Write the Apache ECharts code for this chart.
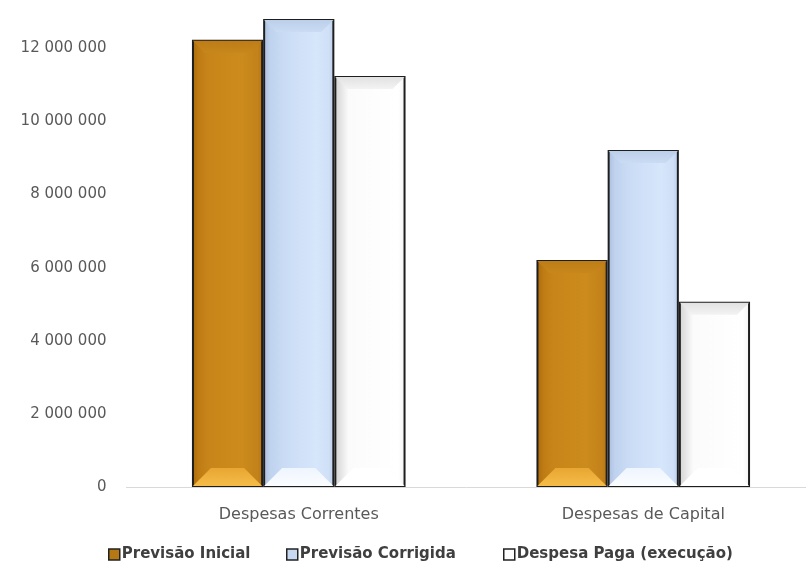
<!DOCTYPE html>
<html>
<head>
<meta charset="utf-8">
<script src="https://cdn.jsdelivr.net/npm/echarts@6/dist/echarts.min.js"></script>
<style>
  html, body { margin: 0; padding: 0; background: #ffffff; }
  #chart { width: 806px; height: 571px; }
</style>
</head>
<body>
<div id="chart"></div>
<script>
// Budget categories and the three execution series (values in euros)
const categories = ['Despesas Correntes', 'Despesas de Capital'];
const previsaoInicial = [12230000, 6210000];
const previsaoCorrigida = [12800000, 9220000];
const despesaPaga = [11240000, 5070000];
const seriesNames = ['Previsão Inicial', 'Previsão Corrigida', 'Despesa Paga (execução)'];
const yTicks = [0, 2000000, 4000000, 6000000, 8000000, 10000000, 12000000];

const CATEGORY_GAP = 0.38;

// Horizontal gradient giving each bar a rounded, bevelled body
function hGrad(stops) {
  return {
    type: 'linear', x: 0, y: 0, x2: 1, y2: 0,
    colorStops: stops.map(s => ({ offset: s[0], color: s[1] }))
  };
}
function vGrad(top, bottom) {
  return {
    type: 'linear', x: 0, y: 0, x2: 0, y2: 1,
    colorStops: [{ offset: 0, color: top }, { offset: 1, color: bottom }]
  };
}

const styles = [
  {
    color: hGrad([[0, '#a86a0c'], [0.1, '#c07c14'], [0.25, '#c8861a'], [0.7, '#cc8b1c'], [0.92, '#c3821a'], [1, '#b37410']]),
    legend: '#b57812',
    bottomFace: vGrad('#e8a632', '#f6bc48'),
    topFace: vGrad('#bd7c16', '#c8871b')
  },
  {
    color: hGrad([[0, '#a9bedd'], [0.1, '#bfd2ee'], [0.3, '#cadcf5'], [0.75, '#d6e6fb'], [0.92, '#cfe0f7'], [1, '#b9cde9']]),
    legend: '#c6d9f1',
    bottomFace: vGrad('#eef5fe', '#fbfdff'),
    topFace: vGrad('#bccfea', '#cadbf3')
  },
  {
    color: hGrad([[0, '#d2d2d2'], [0.1, '#e6e6e6'], [0.2, '#fbfbfb'], [0.9, '#ffffff'], [1, '#f2f2f2']]),
    legend: '#ffffff',
    bottomFace: '#ffffff',
    topFace: vGrad('#e2e2e2', '#f3f3f3')
  }
];

const dataSets = [previsaoInicial, previsaoCorrigida, despesaPaga];
const legendLefts = [108, 286, 503];

function fmt(v) {
  return String(v).replace(/\B(?=(\d{3})+(?!\d))/g, ' ');
}

// Bevel faces (top and bottom trapezoids) drawn over each bar
const bevelData = [];
dataSets.forEach((d, s) => d.forEach((v, c) => bevelData.push([c, v, s])));

function renderBevel(params, api) {
  const c = api.value(0), v = api.value(1), s = api.value(2);
  const top = api.coord([c, v]);
  const base = api.coord([c, 0]);
  const band = api.size([1, 0])[0];
  const w = band * (1 - CATEGORY_GAP) / 3;
  const x0 = top[0] - 1.5 * w + s * w + 1;
  const x1 = x0 + w - 2;
  const hb = Math.min(18, w * 0.26);
  const ht = Math.min(12, w * 0.17);
  const yb = base[1] - 1;
  const yt = top[1] + 1;
  return {
    type: 'group',
    children: [
      {
        type: 'polygon',
        shape: { points: [[x0, yb], [x1, yb], [x1 - hb, yb - hb], [x0 + hb, yb - hb]] },
        style: { fill: styles[s].bottomFace }
      },
      {
        type: 'polygon',
        shape: { points: [[x0, yt], [x1, yt], [x1 - ht, yt + ht], [x0 + ht, yt + ht]] },
        style: { fill: styles[s].topFace }
      }
    ]
  };
}

const chart = echarts.init(document.getElementById('chart'));
chart.setOption({
  animation: false,
  backgroundColor: '#ffffff',
  grid: { left: 126.5, width: 689, top: 0, bottom: 84, containLabel: false, outerBoundsMode: 'none' },
  legend: seriesNames.map((n, i) => ({
    top: 547,
    left: legendLefts[i],
    padding: 0,
    itemWidth: 11,
    itemHeight: 11,
    itemGap: 0,
    icon: 'rect',
    textStyle: { fontFamily: 'DejaVu Sans', fontWeight: 'bold', fontSize: 15, color: '#3f3f3f', padding: [0, 0, 0, -3] },
    data: [{
      name: n,
      itemStyle: { color: styles[i].legend, borderColor: '#222222', borderWidth: 1.5 }
    }]
  })),
  xAxis: {
    type: 'category',
    data: categories,
    axisLine: { lineStyle: { color: '#d9d9d9', width: 1 } },
    axisTick: { show: false },
    axisLabel: { margin: 20, fontFamily: 'DejaVu Sans', fontSize: 16, color: '#595959' }
  },
  yAxis: {
    type: 'value',
    min: 0,
    max: 13320000,
    interval: 2000000,
    splitLine: { show: false },
    axisLine: { show: false },
    axisTick: { show: false },
    axisLabel: {
      margin: 20,
      showMaxLabel: false,
      fontFamily: 'DejaVu Sans',
      fontSize: 15,
      color: '#595959',
      formatter: v => (yTicks.indexOf(v) >= 0 ? fmt(v) : '')
    }
  },
  series: dataSets.map((d, i) => ({
    name: seriesNames[i],
    type: 'bar',
    data: d,
    barGap: '0%',
    barCategoryGap: (CATEGORY_GAP * 100) + '%',
    itemStyle: {
      color: styles[i].color,
      borderColor: '#1e1e1e',
      borderWidth: 2
    }
  })).concat([{
    type: 'custom',
    silent: true,
    z: 3,
    renderItem: renderBevel,
    data: bevelData
  }])
});
</script>
</body>
</html>
